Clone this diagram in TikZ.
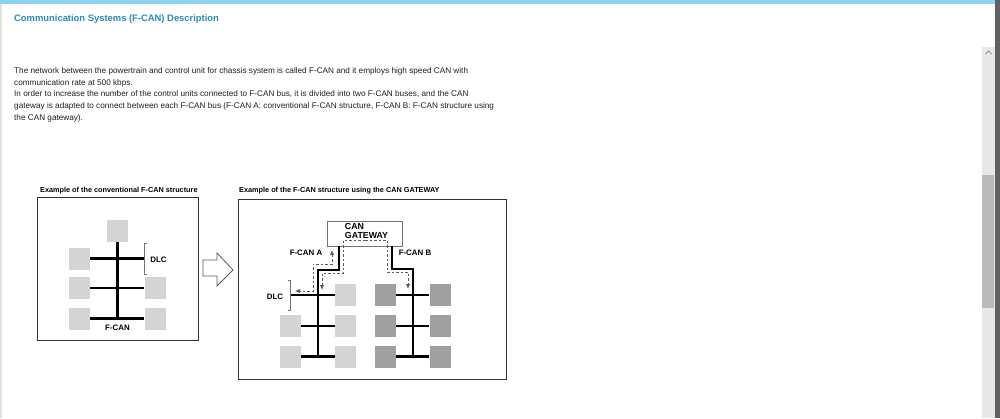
\documentclass[tikz,border=0pt]{standalone}
\usepackage{fontspec}
\setmainfont{Liberation Sans}
\usetikzlibrary{arrows.meta,positioning}
\definecolor{barblue}{HTML}{8CD4F2}
\definecolor{titleblue}{HTML}{2A8AB8}
\definecolor{ecugray}{HTML}{D4D4D4}
\definecolor{ecudark}{HTML}{A0A0A0}
\definecolor{routegray}{HTML}{5A5A5A}
\tikzstyle{ecu}=[fill=ecugray,minimum width=21pt,minimum height=22pt,inner sep=0pt]
\tikzstyle{ecub}=[ecu,fill=ecudark]
\tikzstyle{bus}=[draw,line width=2.4pt]
\tikzstyle{route}=[draw=routegray,dash pattern=on 2.5pt off 2pt,line width=0.8pt]
\tikzstyle{bracket}=[draw=black!55,line width=0.7pt]
\tikzstyle{frame}=[draw=black!80,line width=1.1pt,inner sep=0pt,anchor=north west]
\tikzstyle{lbl}=[font=\bfseries\fontsize{7.9}{8}\selectfont,inner sep=0pt]
\tikzstyle{caption}=[font=\bfseries\fontsize{7.3}{8}\selectfont,anchor=base west,inner sep=0pt]

\begin{document}
\begin{tikzpicture}[x=1pt,y=-1pt,>={Latex[length=5pt,width=4.2pt]}]
        \useasboundingbox (0,0) rectangle (1000,418);
        % page and scroll bar
        \fill[barblue] (0,0) rectangle (995,4);
        \fill[black!12] (0,4) rectangle (1.5,418);
        \fill[black!62] (995,0) rectangle (1000,418);
        \fill[black!9] (982,47) rectangle (995,418);
        \fill[black!27] (982,175) rectangle (994,308);
        \draw[black!50,line width=0.7pt] (985.5,54) -- (988.5,51) -- (991.5,54);
        % text
        \node[anchor=base west,inner sep=0pt,text=titleblue,font=\bfseries\fontsize{9.4}{10}\selectfont] (title) at (14,21.5) {Communication Systems (F-CAN) Description};
        \node[anchor=north west,align=left,inner sep=0pt,text=black!88,font=\fontsize{8.2}{11.6}\selectfont] (body) at (14,67.5) {The network between the powertrain and control unit for chassis system is called F-CAN and it employs high speed CAN with\\
communication rate at 500 kbps.\\
In order to increase the number of the control units connected to F-CAN bus, it is divided into two F-CAN buses, and the CAN\\
gateway is adapted to connect between each F-CAN bus (F-CAN A: conventional F-CAN structure, F-CAN B: F-CAN structure using\\
the CAN gateway).};

        % conventional structure
        \node[caption] (capA) at (40,192) {Example of the conventional F-CAN structure};
        \node[frame,minimum width=161pt,minimum height=143pt] (boxA) at (37,197) {};
        \node[ecu] (a0) at (117.5,231) {};
        \node[ecu] (a1) at (79.5,258.5) {};
        \node[ecu] (a2) at (79.5,288) {};
        \node[ecu] (a3) at (155,288) {};
        \node[ecu] (a4) at (79.5,318.5) {};
        \node[ecu] (a5) at (155,318.5) {};
        \coordinate (aend) at (117.5,318.5);
        \coordinate (dlcA) at (144,258.5);
        \path[bus] (a0) -- (aend);
        \path[bus] (a1) -- (dlcA);
        \path[bus] (a2) -- (a3);
        \path[bus] (a4) -- (a5);
        \path[bracket] ([shift={(3,-15.5)}]dlcA) -- ([shift={(0,-15.5)}]dlcA) -- ([shift={(0,15.5)}]dlcA) -- ([shift={(3,15.5)}]dlcA);
        \node[lbl] (dlcAtext) at (158.5,260) {DLC};
        \node[lbl] (fcan) at (117.5,328) {F-CAN};

        % arrow between
        \draw[black!65,line width=0.8pt,fill=white] (203,260) -- (217,260) -- (217,253) -- (233,270) -- (217,286) -- (217,276) -- (203,276) -- cycle;

        % structure with gateway
        \node[caption] (capB) at (239,192) {Example of the F-CAN structure using the CAN GATEWAY};
        \node[frame,minimum width=268pt,minimum height=180pt] (boxB) at (238,199) {};
        \node[draw=black!55,line width=0.8pt,minimum width=75pt,minimum height=25pt,inner sep=0pt] (gw) at (364.5,233.5) {};
        \node[lbl,align=left,font=\bfseries\fontsize{8.8}{8.6}\selectfont] (gwtext) at (366.5,231) {CAN\\GATEWAY};
        % bus A
        \node[ecu] (b1) at (345.5,295) {};
        \node[ecu] (b2) at (290.5,326) {};
        \node[ecu] (b3) at (345.5,326) {};
        \node[ecu] (b4) at (290.5,356.5) {};
        \node[ecu] (b5) at (345.5,356.5) {};
        \coordinate (dlcB) at (290.5,295);
        \coordinate (bend) at (318,356.5);
        \path[bus] (gw.south -| 339,0) -- (339,270) -- (318,270) -- (bend);
        \path[bus] (dlcB) -- (b1);
        \path[bus] (b2) -- (b3);
        \path[bus] (b4) -- (b5);
        \path[bracket] ([shift={(-3,-15)}]dlcB) -- ([shift={(0,-15)}]dlcB) -- ([shift={(0,15)}]dlcB) -- ([shift={(-3,15)}]dlcB);
        \node[lbl] (dlcBtext) at (275,297) {DLC};
        \node[lbl] (fcanA) at (306,253) {F-CAN A};
        % bus B
        \node[ecub] (c0) at (385,295) {};
        \node[ecub] (c1) at (440,295) {};
        \node[ecub] (c2) at (385,326) {};
        \node[ecub] (c3) at (440,326) {};
        \node[ecub] (c4) at (385,356.5) {};
        \node[ecub] (c5) at (440,356.5) {};
        \coordinate (cend) at (413,356.5);
        \path[bus] (gw.south -| 392,0) -- (392,269) -- (413,269) -- (cend);
        \path[bus] (c0) -- (c1);
        \path[bus] (c2) -- (c3);
        \path[bus] (c4) -- (c5);
        \node[lbl] (fcanB) at (415,253) {F-CAN B};
        % data routes
        \coordinate (gwmid) at (365,240);
        \path[route,->] (gwmid) -- (343,240) -- (343,273) -- (322,273) -- (322,290);
        \path[route,->] (gwmid) -- (387,240) -- (387,272) -- (408,272) -- (408,289);
        \path[route,<->] (332,250) -- (332,264) -- (313,264) -- (313,291) -- (295,291);
    \end{tikzpicture}
\end{document}
